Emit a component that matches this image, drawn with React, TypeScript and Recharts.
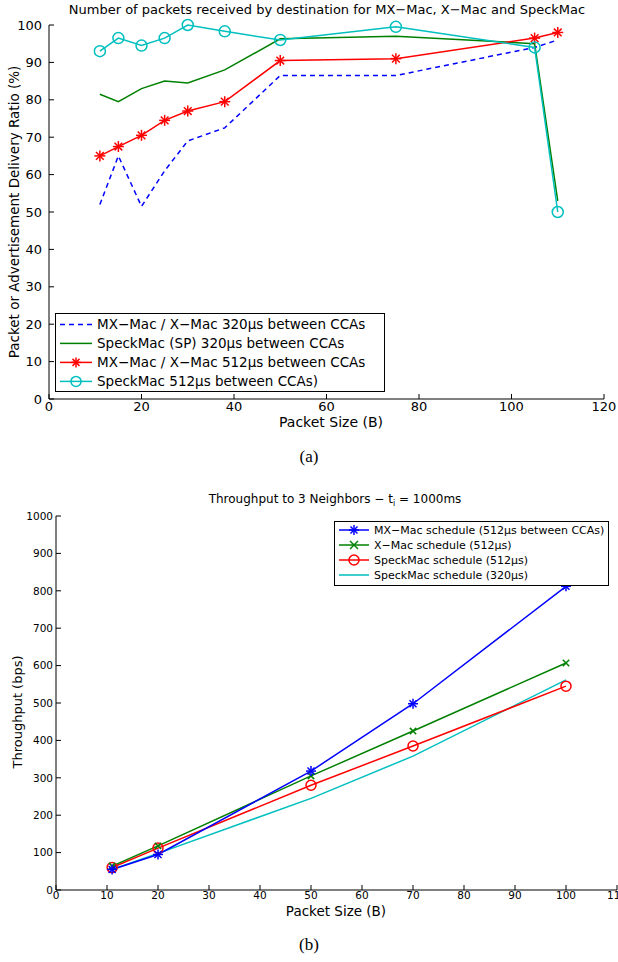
import React from 'react';
import { LineChart, Line, XAxis, YAxis, Legend } from 'recharts';

// (a) delivery ratio vs packet size
const sizesA = [11, 15, 20, 25, 30, 38, 50, 75, 105, 110];
const mx320 = [52, 65, 51.5, 61, 69, 72.5, 86.5, 86.5, 94, 96];
const speck320 = [81.5, 79.5, 83, 85, 84.5, 88, 96.3, 97, 95, 53];
const mx512 = [65, 67.5, 70.5, 74.5, 77, 79.5, 90.5, 91, 96.5, 98];
const speck512 = [93, 96.5, 94.5, 96.5, 100, 98.3, 96, 99.5, 94, 50];
const ticksAx = [0, 20, 40, 60, 80, 100, 120];
const ticksAy = [0, 10, 20, 30, 40, 50, 60, 70, 80, 90, 100];

// (b) throughput vs packet size
const sizesB = [11, 20, 50, 70, 100];
const mxSched = [55, 95, 318, 498, 812];
const xSched = [64, 118, 305, 425, 607];
const speckSched512 = [60, 112, 280, 385, 545];
const speckSched320 = [55, 98, 245, 358, 562];
const ticksBx = [0, 10, 20, 30, 40, 50, 60, 70, 80, 90, 100, 110];
const ticksBy = [0, 100, 200, 300, 400, 500, 600, 700, 800, 900, 1000];

const dataA = sizesA.map((s, i) => ({ s, mx320: mx320[i], speck320: speck320[i], mx512: mx512[i], speck512: speck512[i] }));
const dataB = sizesB.map((s, i) => ({ s, mx: mxSched[i], x: xSched[i], sp512: speckSched512[i], sp320: speckSched320[i] }));

const BLUE = '#0000ff';
const GREEN = '#008000';
const RED = '#ff0000';
const CYAN = '#00bfbf';
const FONT = '"DejaVu Sans", "Liberation Sans", Arial, sans-serif';

type Mk = 'star' | 'circle' | 'x' | 'none';

function marker(kind: Mk, cx: number, cy: number, color: string, r: number, key?: any) {
  if (kind === 'star') {
    const d = r * 0.7;
    return (
      <g key={key} stroke={color} strokeWidth={1.5}>
        <line x1={cx - r} y1={cy} x2={cx + r} y2={cy} />
        <line x1={cx} y1={cy - r} x2={cx} y2={cy + r} />
        <line x1={cx - d} y1={cy - d} x2={cx + d} y2={cy + d} />
        <line x1={cx - d} y1={cy + d} x2={cx + d} y2={cy - d} />
      </g>
    );
  }
  if (kind === 'circle') {
    return <circle key={key} cx={cx} cy={cy} r={r} fill="none" stroke={color} strokeWidth={1.5} />;
  }
  if (kind === 'x') {
    const d = r * 0.8;
    return (
      <g key={key} stroke={color} strokeWidth={1.5}>
        <line x1={cx - d} y1={cy - d} x2={cx + d} y2={cy + d} />
        <line x1={cx - d} y1={cy + d} x2={cx + d} y2={cy - d} />
      </g>
    );
  }
  return <g key={key} />;
}

const dotFn = (kind: Mk, color: string, r: number) => (p: any) => marker(kind, p.cx, p.cy, color, r, p.index);

type Item = { label: string; color: string; mk: Mk; dash?: string };

const itemsA: Item[] = [
  { label: 'MX−Mac / X−Mac 320µs between CCAs', color: BLUE, mk: 'none', dash: '5 4' },
  { label: 'SpeckMac (SP) 320µs between CCAs', color: GREEN, mk: 'none' },
  { label: 'MX−Mac / X−Mac 512µs between CCAs', color: RED, mk: 'star' },
  { label: 'SpeckMac 512µs between CCAs)', color: CYAN, mk: 'circle' },
];

const itemsB: Item[] = [
  { label: 'MX−Mac schedule (512µs between CCAs)', color: BLUE, mk: 'star' },
  { label: 'X−Mac schedule (512µs)', color: GREEN, mk: 'x' },
  { label: 'SpeckMac schedule (512µs)', color: RED, mk: 'circle' },
  { label: 'SpeckMac schedule (320µs)', color: CYAN, mk: 'none' },
];

const legendBox = (items: Item[], w: number, h: number, row: number, fs: number, sample: number, mr: number) => () => (
  <svg width={w} height={h} style={{ display: 'block' }}>
    <rect x={0.5} y={0.5} width={w - 1} height={h - 1} fill="#fff" stroke="#000" strokeWidth={1} />
    {items.map((it, i) => {
      const y = row * 0.6 + i * row;
      return (
        <g key={i}>
          <line x1={5} x2={5 + sample} y1={y} y2={y} stroke={it.color} strokeWidth={1.5} strokeDasharray={it.dash} />
          {marker(it.mk, 5 + sample / 2, y, it.color, mr)}
          <text x={sample + 10} y={y} dy="0.35em" fontSize={fs} fontFamily={FONT} fill="#000">{it.label}</text>
        </g>
      );
    })}
  </svg>
);

const abs = (extra: React.CSSProperties): React.CSSProperties => ({ position: 'absolute', fontFamily: FONT, color: '#000', whiteSpace: 'nowrap', ...extra });

export default function App() {
  const tickA = { fontSize: 13, fill: '#000', fontFamily: FONT };
  const tickB = { fontSize: 10.5, fill: '#000', fontFamily: FONT };
  return (
    <div style={{ position: 'absolute', left: 0, top: 0, width: 618, height: 962, overflow: 'hidden', background: '#fff' }}>
      <div style={abs({ left: 327, top: 9, transform: 'translate(-50%,-50%)', fontSize: 13 })}>
        Number of packets received by destination for MX−Mac, X−Mac and SpeckMac
      </div>
      <div style={{ position: 'absolute', left: 0, top: 0 }}>
        <LineChart width={618} height={470} data={dataA} margin={{ top: 25, right: 14, bottom: 41, left: 9 }}>
          <XAxis dataKey="s" type="number" domain={[0, 120]} ticks={ticksAx} height={30} tickSize={-5} tickMargin={8}
            stroke="#000" tick={tickA} interval={0} />
          <XAxis xAxisId="t" dataKey="s" type="number" orientation="top" domain={[0, 120]} ticks={ticksAx} height={0}
            tickSize={-5} stroke="#000" tickFormatter={() => ''} interval={0} />
          <YAxis type="number" domain={[0, 100]} ticks={ticksAy} width={40} tickSize={-5} tickMargin={12}
            stroke="#000" tick={tickA} interval={0} />
          <YAxis yAxisId="r" type="number" orientation="right" domain={[0, 100]} ticks={ticksAy} width={0}
            tickSize={-5} stroke="#000" tickFormatter={() => ''} interval={0} />
          <Legend layout="vertical" align="center" verticalAlign="middle"
            content={legendBox(itemsA, 330, 79, 19, 13.5, 32, 5)}
            wrapperStyle={{ left: 55, top: 313, width: 330, height: 79 }} />
          <Line dataKey="mx320" stroke={BLUE} strokeWidth={1.5} strokeDasharray="5 4" dot={false} isAnimationActive={false} />
          <Line dataKey="speck320" stroke={GREEN} strokeWidth={1.5} dot={false} isAnimationActive={false} />
          <Line dataKey="mx512" stroke={RED} strokeWidth={1.5} dot={dotFn('star', RED, 5.5)} isAnimationActive={false} />
          <Line dataKey="speck512" stroke={CYAN} strokeWidth={1.5} dot={dotFn('circle', CYAN, 5.5)} isAnimationActive={false} />
        </LineChart>
      </div>
      <div style={abs({ left: 14, top: 212, transform: 'translate(-50%,-50%) rotate(-90deg)', fontSize: 13.5 })}>
        Packet or Advertisement Delivery Ratio (%)
      </div>
      <div style={abs({ left: 331, top: 422, transform: 'translate(-50%,-50%)', fontSize: 14 })}>Packet Size (B)</div>
      <div style={abs({ left: 309, top: 457, transform: 'translate(-50%,-50%)', fontSize: 17, fontFamily: '"Liberation Serif", serif' })}>(a)</div>

      <div style={abs({ left: 335, top: 500, transform: 'translate(-50%,-50%)', fontSize: 12 })}>
        Throughput to 3 Neighbors − t<sub style={{ fontSize: 8 }}>i</sub> = 1000ms
      </div>
      <div style={{ position: 'absolute', left: 0, top: 480 }}>
        <LineChart width={618} height={480} data={dataB} margin={{ top: 36, right: 1, bottom: 40, left: 16 }}>
          <XAxis dataKey="s" type="number" domain={[0, 110]} ticks={ticksBx} height={30} tickSize={-5} tickMargin={7}
            stroke="#000" tick={tickB} interval={0} />
          <XAxis xAxisId="t" dataKey="s" type="number" orientation="top" domain={[0, 110]} ticks={ticksBx} height={0}
            tickSize={-5} stroke="#000" tickFormatter={() => ''} interval={0} />
          <YAxis type="number" domain={[0, 1000]} ticks={ticksBy} width={40} tickSize={-5} tickMargin={8}
            stroke="#000" tick={tickB} interval={0} />
          <YAxis yAxisId="r" type="number" orientation="right" domain={[0, 1000]} ticks={ticksBy} width={0}
            tickSize={-5} stroke="#000" tickFormatter={() => ''} interval={0} />
          <Legend layout="vertical" align="center" verticalAlign="middle"
            content={legendBox(itemsB, 275, 65, 15, 11, 30, 5)}
            wrapperStyle={{ left: 334, top: 41, width: 275, height: 65 }} />
          <Line dataKey="sp320" stroke={CYAN} strokeWidth={1.5} dot={false} isAnimationActive={false} />
          <Line dataKey="sp512" stroke={RED} strokeWidth={1.5} dot={dotFn('circle', RED, 5)} isAnimationActive={false} />
          <Line dataKey="x" stroke={GREEN} strokeWidth={1.5} dot={dotFn('x', GREEN, 4)} isAnimationActive={false} />
          <Line dataKey="mx" stroke={BLUE} strokeWidth={1.5} dot={dotFn('star', BLUE, 5)} isAnimationActive={false} />
        </LineChart>
      </div>
      <div style={abs({ left: 17, top: 712, transform: 'translate(-50%,-50%) rotate(-90deg)', fontSize: 13 })}>Throughput (bps)</div>
      <div style={abs({ left: 336, top: 911, transform: 'translate(-50%,-50%)', fontSize: 13.5 })}>Packet Size (B)</div>
      <div style={abs({ left: 309, top: 945, transform: 'translate(-50%,-50%)', fontSize: 17, fontFamily: '"Liberation Serif", serif' })}>(b)</div>
    </div>
  );
}
